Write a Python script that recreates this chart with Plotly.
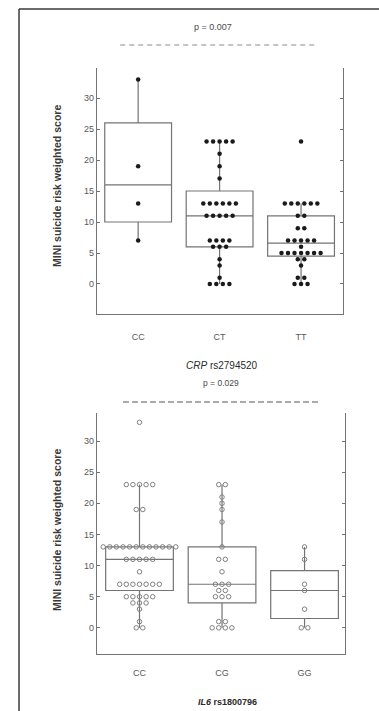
import plotly.graph_objects as go
from collections import Counter

W, H = 379, 711

# ---------------- data ----------------
crp_categories = ["CC", "CT", "TT"]
il6_categories = ["CC", "CG", "GG"]

crp_cc = [33, 19, 13, 7]
crp_ct = [23]*5 + [21, 19, 17] + [13]*6 + [11]*5 + [7]*4 + [6]*3 + [4, 3, 1] + [0]*4
crp_tt = [23] + [13]*6 + [11]*2 + [9]*2 + [7]*5 + [6] + [5]*7 + [4]*2 + [3] + [1]*2 + [0]*3

crp_q1 = [10, 6, 4.5]
crp_median = [16, 11, 6.6]
crp_q3 = [26, 15, 11]
crp_low = [7, 0, 0]
crp_high = [33, 23, 13]

il6_cc = [33] + [23]*5 + [19]*2 + [13]*12 + [11]*5 + [9] + [7]*7 + [5]*5 + [4]*3 + [3, 1] + [0]*2
il6_cg = [23]*2 + [21, 20, 19, 17] + [13] + [11]*2 + [9] + [7]*3 + [6]*2 + [5]*3 + [1]*2 + [0]*4
il6_gg = [13, 11, 7, 6, 3, 0, 0]

il6_q1 = [6, 4, 1.5]
il6_median = [11, 7, 6]
il6_q3 = [13, 13, 9.2]
il6_low = [0, 0, 0]
il6_high = [23, 23, 13]

y_ticks = [0, 5, 10, 15, 20, 25, 30]
p_values = ["p = 0.007", "p = 0.029"]
y_title = "MINI suicide risk weighted score"
x_titles = ["<i>CRP</i> rs2794520", "<b><i>IL6</i> rs1800796</b>"]

# ---------------- helpers ----------------
def px(x):
    return x / W

def py(y):
    return 1 - y / H

def swarm(values, center, step=0.08):
    cnt = Counter(values)
    seen = Counter()
    xs, ys = [], []
    for v in values:
        n = cnt[v]
        i = seen[v]
        seen[v] += 1
        xs.append(center + (i - (n - 1) / 2) * step)
        ys.append(v)
    return xs, ys

LINE = "#747474"
TEXT = "#585858"
FONT = "Liberation Sans"

fig = go.Figure()

panels = [
    dict(xa="x", ya="y", groups=[crp_cc, crp_ct, crp_tt], q1=crp_q1, med=crp_median,
         q3=crp_q3, lo=crp_low, hi=crp_high,
         marker=dict(color="#1a1a1a", size=4.5, symbol="circle")),
    dict(xa="x2", ya="y2", groups=[il6_cc, il6_cg, il6_gg], q1=il6_q1, med=il6_median,
         q3=il6_q3, lo=il6_low, hi=il6_high,
         marker=dict(color="#808080", size=4.5, symbol="circle-open", line=dict(width=1))),
]

for p in panels:
    for i in range(3):
        fig.add_trace(go.Box(
            x=[i], q1=[p["q1"][i]], median=[p["med"][i]], q3=[p["q3"][i]],
            lowerfence=[p["lo"][i]], upperfence=[p["hi"][i]],
            width=0.82, whiskerwidth=0, boxpoints=False,
            fillcolor="rgba(0,0,0,0)", line=dict(color=LINE, width=1.2),
            xaxis=p["xa"], yaxis=p["ya"], showlegend=False, hoverinfo="skip"))
    for i, g in enumerate(p["groups"]):
        xs, ys = swarm(g, i)
        fig.add_trace(go.Scatter(
            x=xs, y=ys, mode="markers", marker=p["marker"],
            xaxis=p["xa"], yaxis=p["ya"], showlegend=False, hoverinfo="skip"))

axis_common_y = dict(
    tickvals=y_ticks, showgrid=False, zeroline=False, showline=True,
    linecolor=LINE, linewidth=1.3, ticks="inside", ticklen=3,
    tickcolor=LINE, tickfont=dict(family=FONT, size=9, color=TEXT),
)
axis_right_y = dict(
    tickvals=y_ticks, showgrid=False, zeroline=False, showline=True,
    linecolor=LINE, linewidth=1.3, ticks="inside", ticklen=3, side="right",
    tickcolor=LINE, showticklabels=False,
)
axis_common_x = dict(
    tickvals=[0, 1, 2], showgrid=False, zeroline=False, showline=True,
    linecolor=LINE, linewidth=1.3, ticks="",
    tickfont=dict(family=FONT, size=9, color=TEXT),
)

top_range = [-4.84, 34.84]
bot_range = [-4.2, 34.5]

fig.update_layout(
    width=W, height=H, margin=dict(l=0, r=0, t=0, b=0),
    paper_bgcolor="white", plot_bgcolor="white",
    xaxis=dict(axis_common_x, domain=[px(97), px(343)], range=[-0.505, 2.515],
               ticktext=crp_categories, anchor="y", ticklabelstandoff=14),
    yaxis=dict(axis_common_y, domain=[py(314), py(68)], range=top_range, anchor="x"),
    yaxis3=dict(axis_right_y, domain=[py(314), py(68)], range=top_range, anchor="x",
                overlaying="y"),
    xaxis2=dict(axis_common_x, domain=[px(97), px(345)], range=[-0.515, 2.49],
                ticktext=il6_categories, anchor="y2", ticklabelstandoff=10),
    yaxis2=dict(axis_common_y, domain=[py(654), py(413)], range=bot_range, anchor="x2"),
    yaxis4=dict(axis_right_y, domain=[py(654), py(413)], range=bot_range, anchor="x2",
                overlaying="y2"),
)
fig.add_trace(go.Scatter(x=[None], y=[None], xaxis="x", yaxis="y3", showlegend=False))
fig.add_trace(go.Scatter(x=[None], y=[None], xaxis="x2", yaxis="y4", showlegend=False))

shapes = [
    dict(type="line", xref="paper", yref="paper", x0=px(19), x1=px(19), y0=py(9), y1=-0.01,
         line=dict(color="#3a3a3a", width=1.5)),
    dict(type="line", xref="paper", yref="paper", x0=px(19), x1=1.01, y0=py(9), y1=py(9),
         line=dict(color="#3a3a3a", width=1.5)),
    dict(type="line", xref="x", yref="paper", x0=-0.22, x1=2.21, y0=py(45), y1=py(45),
         line=dict(color="#8a8a8a", width=1, dash="5px,4px")),
    dict(type="line", xref="x2", yref="paper", x0=-0.2, x1=2.2, y0=py(402), y1=py(402),
         line=dict(color="#555555", width=1, dash="6px,3px")),
]
fig.update_layout(shapes=shapes)

ann = []
for txt, x, y, s in zip(p_values, [213, 221], [27, 383], [9, 8.5]):
    ann.append(dict(text=txt, x=px(x), y=py(y), xref="paper", yref="paper",
                    xanchor="center", yanchor="middle", showarrow=False,
                    font=dict(family=FONT, size=s, color="#4a4a4a")))
for txt, x, y, s in zip(x_titles, [222, 227], [365, 702], [10, 9]):
    ann.append(dict(text=txt, x=px(x), y=py(y), xref="paper", yref="paper",
                    xanchor="center", yanchor="middle", showarrow=False,
                    font=dict(family=FONT, size=s, color="#2a2a2a")))
for y in [186, 530]:
    ann.append(dict(text="<b>" + y_title + "</b>", x=px(57), y=py(y), xref="paper",
                    yref="paper", xanchor="center", yanchor="middle",
                    textangle=-90, showarrow=False,
                    font=dict(family=FONT, size=10.5, color="#3a3a3a")))
fig.update_layout(annotations=ann)

fig.write_html("out.html", config={"displayModeBar": False},
               post_script="document.body.style.margin='0';")
